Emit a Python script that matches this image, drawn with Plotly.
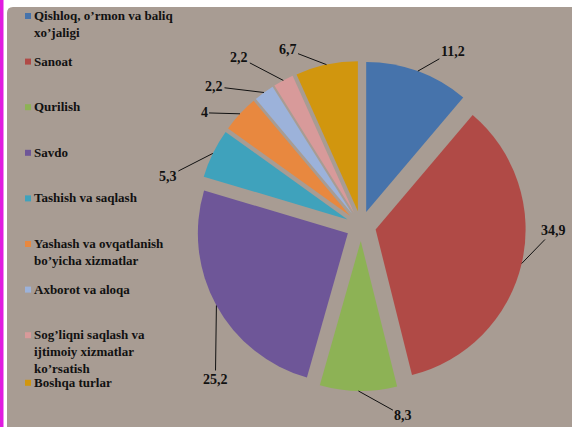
import math
import plotly.graph_objects as go

# ---- data ----
categories = [
    "Qishloq, o’rmon va baliq<br>xo’jaligi",
    "Sanoat",
    "Qurilish",
    "Savdo",
    "Tashish va saqlash",
    "Yashash va ovqatlanish<br>bo’yicha xizmatlar",
    "Axborot va aloqa",
    "Sog’liqni saqlash va<br>ijtimoiy xizmatlar<br>ko’rsatish",
    "Boshqa turlar",
]
values = [11.2, 34.9, 8.3, 25.2, 5.3, 4, 2.2, 2.2, 6.7]
value_labels = [("%g" % v).replace(".", ",") for v in values]

# ---- style ----
colors = ["#4673AB", "#B04A46", "#8DB255", "#6E5698", "#3FA2BC",
          "#E8883F", "#9CB2DA", "#D89A9A", "#D1960E"]
W, H = 572, 427
cx, cy, R, pull = 361, 226, 150, 0.1
half = R * (1 + pull)
FONT = "Liberation Serif"

# label text offsets (px) relative to slice outer point
offsets = [(35, -20), (32, -33), (45, 25), (-1, 74), (-45, 23),
           (-36, -1), (-50, -6), (-44, -23), (-39, -15)]


def px(x, y):
    return x / W, 1 - y / H


fig = go.Figure()
fig.add_trace(go.Pie(
    labels=[c.replace("<br>", " ") for c in categories],
    values=values,
    sort=False,
    direction="clockwise",
    rotation=0,
    pull=[pull] * len(values),
    marker=dict(colors=colors, line=dict(width=0)),
    textinfo="none",
    hoverinfo="label+value",
    showlegend=False,
    domain=dict(x=[(cx - half) / W, (cx + half) / W],
                y=[1 - (cy + half) / H, 1 - (cy - half) / H]),
))

annotations = []
shapes = []

# background
shapes.append(dict(type="rect", xref="paper", yref="paper", x0=0, x1=3.5 / W,
                   y0=0, y1=1, fillcolor="#E01BE0", line=dict(width=0), layer="below"))
x0, y0 = px(7, 7)
r_c = 6
shapes.append(dict(
    type="path", xref="paper", yref="paper", layer="below",
    path=("M {a},{b} L {a},{c} Q {a},{d} {e},{d} L 1,{d} L 1,0 Z").format(
        a=x0, b=0, c=1 - (7 + r_c) / H, d=y0, e=(7 + r_c) / W),
    fillcolor="#A89C93", line=dict(width=0)))

# value labels with leader lines
total = sum(values)
cum = 0.0
for i, v in enumerate(values):
    theta = math.radians(360 * (cum + v / 2) / total)
    cum += v
    ex = cx + half * math.sin(theta)
    ey = cy - half * math.cos(theta)
    X, Y = px(ex, ey)
    annotations.append(dict(
        x=X, y=Y, xref="paper", yref="paper", text=value_labels[i],
        showarrow=True, arrowhead=0, arrowwidth=1, arrowcolor="#111111",
        ax=offsets[i][0], ay=offsets[i][1], standoff=0,
        font=dict(family=FONT, size=14, color="#111111", weight="bold"),
    ))

# legend
for i, (c, col) in enumerate(zip(categories, colors)):
    yc = 16 + 45.6 * i + (2 if i == len(categories) - 1 else 0)
    mx0, my0 = px(25, yc - 3)
    mx1, my1 = px(31, yc + 3)
    shapes.append(dict(type="rect", xref="paper", yref="paper",
                       x0=mx0, x1=mx1, y0=my1, y1=my0,
                       fillcolor=col, line=dict(width=0)))
    tx, ty = px(33, yc - 9)
    annotations.append(dict(
        x=tx, y=ty, xref="paper", yref="paper", xanchor="left", yanchor="top",
        text=c, showarrow=False, align="left", borderpad=0,
        font=dict(family=FONT, size=13, color="#111111", weight="bold"),
    ))

fig.update_layout(
    width=W, height=H,
    margin=dict(l=0, r=0, t=0, b=0),
    paper_bgcolor="white",
    shapes=shapes,
    annotations=annotations,
)

fig.write_html(
    "out.html",
    config={"displayModeBar": False},
    post_script="document.body.style.margin='0px';document.body.style.overflow='hidden';",
)
